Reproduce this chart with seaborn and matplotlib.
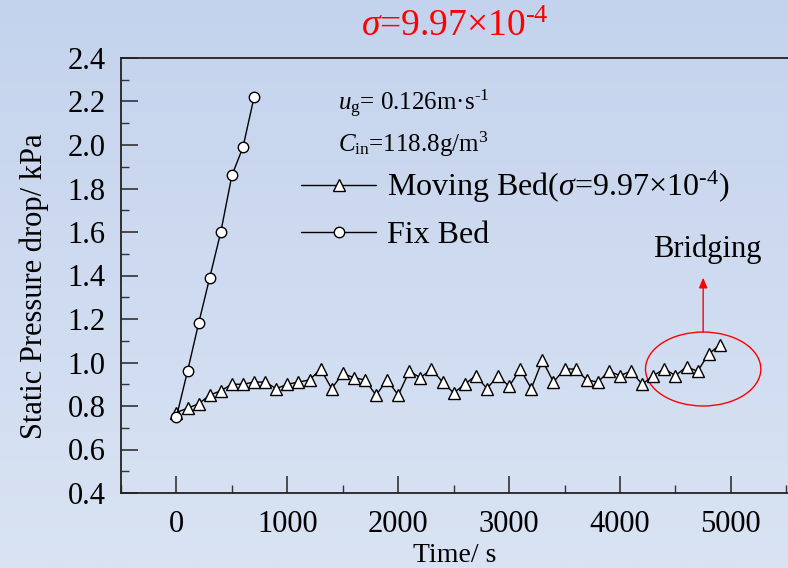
import numpy as np
import pandas as pd
import matplotlib
matplotlib.use("Agg")
import matplotlib.pyplot as plt
from matplotlib.patches import Ellipse
import seaborn as sns

# ---- data ----
fix_time = [0, 100, 200, 300, 400, 500, 600, 700]
fix_dp = [0.75, 0.96, 1.18, 1.39, 1.60, 1.86, 1.99, 2.22]

moving_time = list(range(0, 5000, 100))
moving_dp = [0.77, 0.79, 0.81, 0.85, 0.87, 0.90, 0.90, 0.91, 0.91, 0.88,
             0.90, 0.91, 0.92, 0.97, 0.88, 0.95, 0.93, 0.92, 0.85, 0.92,
             0.85, 0.96, 0.93, 0.97, 0.91, 0.86, 0.90, 0.94, 0.88, 0.94,
             0.89, 0.97, 0.88, 1.01, 0.91, 0.97, 0.97, 0.92, 0.91, 0.96,
             0.94, 0.96, 0.90, 0.94, 0.97, 0.94, 0.98, 0.96, 1.04, 1.08]

x_ticks = [0, 1000, 2000, 3000, 4000, 5000]
y_ticks = [0.4, 0.6, 0.8, 1.0, 1.2, 1.4, 1.6, 1.8, 2.0, 2.2, 2.4]

title_text = r'$\sigma$=9.97$\times$10$^{\text{-}4}$'
moving_label = r'Moving Bed($\sigma$=9.97×10$^{\text{-}4}$)'
fix_label = 'Fix Bed'
note1 = r'$u_{\rm g}$= 0.126m·s$^{\text{-}1}$'
note2 = r'$C_{\rm in}$=118.8g/m$^{3}$'

# highlight (bridging region)
ell_center = (4750, 0.97)
ell_w, ell_h = 1040, 0.34
arrow_base = (4750, 1.14)
arrow_tip = (4750, 1.39)
bridge_pos = (4790, 1.52)

# ---- style ----
sns.set_style("ticks")
plt.rcParams['font.family'] = ['Liberation Serif', 'DejaVu Serif']
plt.rcParams['mathtext.fontset'] = 'custom'
plt.rcParams['mathtext.rm'] = 'Liberation Serif'
plt.rcParams['mathtext.it'] = 'Liberation Serif:italic'
plt.rcParams['mathtext.bf'] = 'Liberation Serif:bold'
plt.rcParams['text.color'] = 'black'
plt.rcParams['axes.labelcolor'] = 'black'

fig = plt.figure(figsize=(7.88, 5.68), dpi=100)

# gradient background
bg = fig.add_axes([0, 0, 1, 1], zorder=-10)
grad = np.linspace(0, 1, 256).reshape(-1, 1)
top_c = np.array([196, 211, 237]) / 255
bot_c = np.array([217, 227, 243]) / 255
img = top_c[None, None, :] * (1 - grad[..., None]) + bot_c[None, None, :] * grad[..., None]
bg.imshow(img, aspect='auto', extent=[0, 1, 0, 1])
bg.axis('off')

ax = fig.add_axes([121 / 788, 1 - 493 / 568, 1 - 121 / 788, (493 - 58) / 568])
ax.patch.set_alpha(0)

df_fix = pd.DataFrame({'t': fix_time, 'dp': fix_dp})
df_mov = pd.DataFrame({'t': moving_time, 'dp': moving_dp})

sns.lineplot(data=df_mov, x='t', y='dp', ax=ax, color='black', linewidth=1.0,
             marker='^', markersize=8, markerfacecolor='white',
             markeredgecolor='black', markeredgewidth=1.0, label=moving_label)
sns.lineplot(data=df_fix, x='t', y='dp', ax=ax, color='black', linewidth=1.0,
             marker='o', markersize=7.5, markerfacecolor='white',
             markeredgecolor='black', markeredgewidth=1.0, label=fix_label)

ax.set_xlim(-500, 5515)
ax.set_ylim(0.4, 2.4)
ax.set_xticks(x_ticks)
ax.set_yticks(y_ticks)
ax.set_yticklabels([f'{v:.1f}' for v in y_ticks])
ax.xaxis.set_minor_locator(matplotlib.ticker.MultipleLocator(500))
ax.yaxis.set_minor_locator(matplotlib.ticker.MultipleLocator(0.1))
ax.tick_params(which='major', direction='in', length=12, width=1.2,
               labelsize=22, colors='#333333', labelcolor='black')
ax.tick_params(which='minor', direction='in', length=6, width=1.0, colors='#333333')
ax.tick_params(axis='x', pad=12)
ax.tick_params(axis='y', pad=11)
ax.tick_params(top=False, right=False, which='both')
for s in ['left', 'bottom', 'top']:
    ax.spines[s].set_color('#222222')
    ax.spines[s].set_linewidth(1.3)
ax.spines['right'].set_visible(False)

ax.set_xlabel('Time/ s', fontsize=20, labelpad=3)
ax.set_ylabel('Static Pressure drop/ kPa', fontsize=22)
ax.yaxis.set_label_coords(-0.108, 0.475)
ax.set_title(title_text, color='red', fontsize=27, pad=16)

ax.text(1453, 2.161, note1, fontsize=18, va='baseline', ha='left')
ax.text(1453, 1.968, note2, fontsize=18, va='baseline', ha='left')

leg = ax.legend(loc='upper left', bbox_to_anchor=(0.27, 0.745),
                frameon=False, fontsize=23, handlelength=2.35, handletextpad=0.35,
                labelspacing=0.5, borderpad=0, borderaxespad=0)

ax.add_patch(Ellipse(ell_center, ell_w, ell_h, fill=False, edgecolor='red', linewidth=1.0))
ax.annotate('', xy=arrow_tip, xytext=arrow_base,
            arrowprops=dict(arrowstyle='-|>,head_length=0.6,head_width=0.25',
                            color='red', linewidth=1.0, shrinkA=0, shrinkB=0))
ax.text(bridge_pos[0], bridge_pos[1], 'Bridging', fontsize=22, ha='center', va='center')

fig.savefig('out.png', dpi=100)
